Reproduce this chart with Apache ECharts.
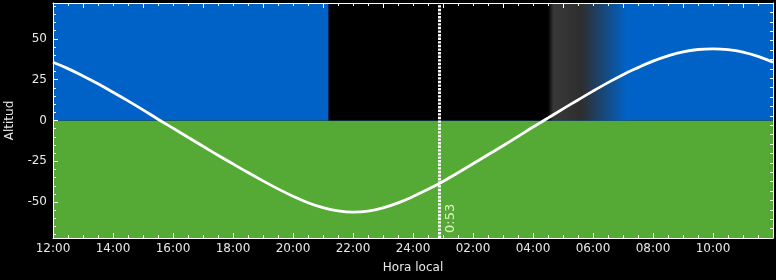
<!DOCTYPE html>
<html>
<head>
<meta charset="utf-8">
<script src="https://cdn.jsdelivr.net/npm/echarts@6/dist/echarts.min.js"></script>
<style>html,body{margin:0;padding:0;background:#000;}#c{width:776px;height:280px;}</style>
</head>
<body>
<div id="c"></div>
<script>
// ---- data ----
const hours = [12, 12.5, 13, 13.5, 14, 14.5, 15, 15.5, 16, 16.5, 17, 17.5, 18, 18.5, 19, 19.5, 20, 20.5, 21, 21.5, 22, 22.5, 23, 23.5, 24, 24.5, 25, 25.5, 26, 26.5, 27, 27.5, 28, 28.5, 29, 29.5, 30, 30.5, 31, 31.5, 32, 32.5, 33, 33.5, 34, 34.5, 35, 35.5, 36];
const altitude = [35.7, 31.8, 27.3, 22.5, 17.3, 12.0, 6.5, 0.8, -4.7, -10.3, -15.8, -21.3, -26.6, -31.9, -37.0, -41.9, -46.4, -50.4, -53.4, -55.4, -56.2, -55.6, -53.6, -50.5, -46.6, -42.2, -37.4, -32.0, -26.5, -21.0, -15.5, -9.8, -4.0, 1.5, 7.1, 12.6, 18.0, 23.2, 28.1, 32.4, 36.4, 39.6, 42.1, 43.5, 43.9, 43.4, 41.9, 39.3, 35.7];
const xTickValues = [12, 14, 16, 18, 20, 22, 24, 26, 28, 30, 32, 34];
const xTickLabels = ['12:00', '14:00', '16:00', '18:00', '20:00', '22:00', '24:00', '02:00', '04:00', '06:00', '08:00', '10:00'];
const topTickValues = [13, 15, 17, 19, 21, 23, 25, 27, 29, 31, 33, 35];
const yTickValues = [-50, -25, 0, 25, 50];
const yTickLabels = ['-50', '-25', '0', '25', '50'];
const nightStart = 21.18;
const twilightStart = 28.5;
const dayStart = 31.12;
const nowTime = 24.883;
const nowLabel = '0:53';

const X_MIN = 12, X_MAX = 36, Y_MIN = -72, Y_MAX = 72;
const BLUE = '#0062c6', GREEN = '#54aa34', WHITE = '#ffffff', TXT = '#e8e8e8';
const FONT = 'DejaVu Sans';
const AXIS_Z = 6;

const yMinor = [];
for (let v = -70; v <= 70; v += 5) yMinor.push(v);

const chart = echarts.init(document.getElementById('c'), null, {renderer: 'canvas'});

function tickAxisX(pos, opts) {
  return Object.assign({
    type: 'value', min: X_MIN, max: X_MAX, position: pos, z: AXIS_Z,
    axisLine: {show: false, onZero: false},
    axisLabel: {show: false},
    splitLine: {show: false},
    axisTick: {show: true, inside: true, length: 3, lineStyle: {color: WHITE, width: 1}}
  }, opts);
}

const option = {
  backgroundColor: '#000',
  animation: false,
  grid: {left: 53, right: 3, top: 3, bottom: 42, containLabel: false, outerBoundsMode: 'none'},
  xAxis: [
    {
      type: 'value', min: X_MIN, max: X_MAX, position: 'bottom', z: AXIS_Z,
      axisLine: {show: true, onZero: false, lineStyle: {color: WHITE, width: 1}},
      axisTick: {show: true, inside: true, length: 5, customValues: xTickValues, lineStyle: {color: WHITE, width: 1}},
      axisLabel: {
        show: true, customValues: xTickValues, color: TXT, fontSize: 12, fontFamily: FONT, margin: 5,
        formatter: function (v) { const i = xTickValues.indexOf(v); return i >= 0 ? xTickLabels[i] : ''; }
      },
      splitLine: {show: false},
      name: 'Hora local', nameLocation: 'middle', nameGap: 24,
      nameTextStyle: {color: TXT, fontSize: 12, fontFamily: FONT}
    },
    tickAxisX('bottom', {interval: 0.5}),
    tickAxisX('top', {
      axisLine: {show: true, onZero: false, lineStyle: {color: WHITE, width: 1}},
      axisTick: {show: true, inside: true, length: 5, customValues: topTickValues, lineStyle: {color: WHITE, width: 1}}
    }),
    tickAxisX('top', {interval: 0.5})
  ],
  yAxis: [
    {
      type: 'value', min: Y_MIN, max: Y_MAX, position: 'left', z: AXIS_Z,
      axisLine: {show: true, onZero: false, lineStyle: {color: WHITE, width: 1}},
      axisTick: {show: true, inside: true, length: 5, customValues: yTickValues, lineStyle: {color: WHITE, width: 1}},
      axisLabel: {
        show: true, customValues: yTickValues, color: TXT, fontSize: 12, fontFamily: FONT, margin: 6,
        formatter: function (v) { const i = yTickValues.indexOf(v); return i >= 0 ? yTickLabels[i] : ''; }
      },
      splitLine: {show: false},
      name: 'Altitud', nameLocation: 'middle', nameGap: 37, nameRotate: 90,
      nameTextStyle: {color: TXT, fontSize: 12, fontFamily: FONT}
    },
    {
      type: 'value', min: Y_MIN, max: Y_MAX, position: 'left', z: AXIS_Z,
      axisLine: {show: false, onZero: false},
      axisTick: {show: true, inside: true, length: 3, customValues: yMinor, lineStyle: {color: WHITE, width: 1}},
      axisLabel: {show: false}, splitLine: {show: false}
    },
    {
      type: 'value', min: 0, max: 25, interval: 1, position: 'right', z: AXIS_Z,
      axisLine: {show: true, onZero: false, lineStyle: {color: WHITE, width: 1}},
      axisTick: {show: true, inside: true, length: 3, lineStyle: {color: WHITE, width: 1}},
      axisLabel: {show: false}, splitLine: {show: false}
    }
  ],
  series: [
    {
      type: 'line',
      xAxisIndex: 0, yAxisIndex: 0,
      data: hours.map((h, i) => [h, altitude[i]]),
      smooth: 0.4,
      symbol: 'none',
      lineStyle: {color: WHITE, width: 2.8},
      z: 3,
      silent: true,
      markArea: {
        silent: true,
        label: {show: false},
        emphasis: {disabled: true},
        data: [
          [{xAxis: X_MIN, yAxis: Y_MIN, itemStyle: {color: GREEN}}, {xAxis: X_MAX, yAxis: 0}],
          [{xAxis: X_MIN, yAxis: 0, itemStyle: {color: BLUE}}, {xAxis: X_MAX, yAxis: Y_MAX}],
          [{xAxis: nightStart, yAxis: 0, itemStyle: {color: '#000000'}}, {xAxis: twilightStart, yAxis: Y_MAX}],
          [{xAxis: twilightStart, yAxis: 0, itemStyle: {color: {
            type: 'linear', x: 0, y: 0, x2: 1, y2: 0,
            colorStops: [
              {offset: 0, color: '#000000'},
              {offset: 0.07, color: '#383838'},
              {offset: 0.25, color: '#333333'},
              {offset: 0.42, color: '#2e2e2e'},
              {offset: 1, color: BLUE}
            ]
          }}}, {xAxis: dayStart, yAxis: Y_MAX}]
        ]
      },
      markLine: {
        silent: true,
        symbol: 'none',
        animation: false,
        lineStyle: {color: WHITE, width: 3, type: [2.4, 1.2]},
        label: {
          show: true, formatter: nowLabel, position: 'insideStartBottom',
          color: '#e2f2c4', fontSize: 13, fontFamily: FONT, distance: 5
        },
        emphasis: {disabled: true},
        data: [{xAxis: nowTime}]
      }
    }
  ]
};
chart.setOption(option);
</script>
</body>
</html>
